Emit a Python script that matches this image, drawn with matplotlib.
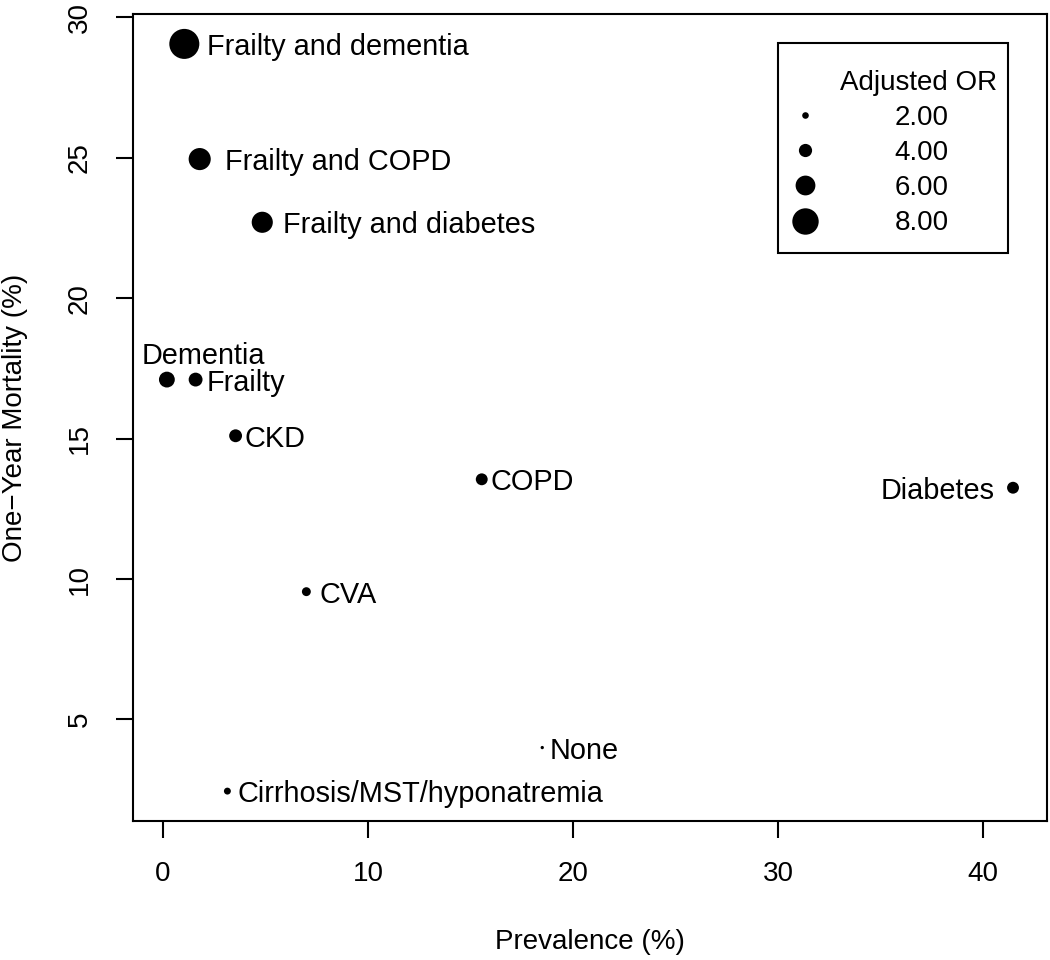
import matplotlib
matplotlib.use("Agg")
import matplotlib.pyplot as plt
from matplotlib.lines import Line2D
from matplotlib.patches import Rectangle

plt.rcParams["font.family"] = ["Liberation Sans", "DejaVu Sans"]

# condition groups with prevalence (%), one-year mortality (%) and adjusted OR
conditions = [
    "Frailty and dementia", "Frailty and COPD", "Frailty and diabetes",
    "Dementia", "Frailty", "CKD", "COPD", "Diabetes", "CVA",
    "None", "Cirrhosis/MST/hyponatremia",
]
prevalence = [1.05, 1.8, 4.85, 0.2, 1.6, 3.55, 15.55, 41.45, 7.0, 18.5, 3.15]
mortality = [29.05, 24.95, 22.7, 17.1, 17.1, 15.1, 13.55, 13.25, 9.55, 4.0, 2.45]
adjusted_or = [9.1, 6.7, 6.4, 4.8, 4.2, 3.9, 3.6, 3.6, 2.7, 1.0, 2.1]

legend_or = [2.0, 4.0, 6.0, 8.0]

# label placement (offset in points from the marker centre, alignment)
label_style = {
    "Frailty and dementia": (16, 0, "left", "center_baseline"),
    "Frailty and COPD": (18, 0, "left", "center_baseline"),
    "Frailty and diabetes": (15, 0, "left", "center_baseline"),
    "Dementia": (-18, 11, "left", "baseline"),
    "Frailty": (8, 0, "left", "center_baseline"),
    "CKD": (6.5, 0, "left", "center_baseline"),
    "COPD": (6.5, 0, "left", "center_baseline"),
    "Diabetes": (-13, 0, "right", "center_baseline"),
    "CVA": (9.5, 0, "left", "center_baseline"),
    "None": (5, 0, "left", "center_baseline"),
    "Cirrhosis/MST/hyponatremia": (7, 0, "left", "center_baseline"),
}


def marker_diam(o):
    # marker diameter in points, proportional to the odds ratio
    return 3.3 * o * 0.72


fig = plt.figure(figsize=(10.5, 9.6), dpi=100)
ax = fig.add_axes([0.1267, 0.1448, 0.8703, 0.8406])

ax.scatter(prevalence, mortality, s=[marker_diam(o) ** 2 for o in adjusted_or],
           color="black", linewidths=0, zorder=3)

for name, x, y in zip(conditions, prevalence, mortality):
    dx, dy, ha, va = label_style[name]
    ax.annotate(name, (x, y), xytext=(dx, dy), textcoords="offset points",
                ha=ha, va=va, fontsize=20.8)

# R-like axis extents (4% padding)
xr = max(prevalence) - min(prevalence)
yr = max(mortality) - min(mortality)
ax.set_xlim(min(prevalence) - 0.04 * xr, max(prevalence) + 0.04 * xr)
ax.set_ylim(min(mortality) - 0.04 * yr, max(mortality) + 0.04 * yr)

ax.set_xticks([0, 10, 20, 30, 40])
ax.set_yticks([5, 10, 15, 20, 25, 30])
ax.tick_params(axis="both", direction="out", length=12, width=1.5,
               labelsize=20, pad=17)
for lab in ax.get_yticklabels():
    lab.set_rotation(90)
    lab.set_va("center")

for sp in ax.spines.values():
    sp.set_linewidth(1.5)

ax.set_xlabel("Prevalence (%)", fontsize=20)
ax.set_ylabel("One\u2212Year Mortality (%)", fontsize=20)
ax.xaxis.set_label_coords(0.5, -0.1499)
ax.xaxis.label.set_va("center")
ax.yaxis.set_label_coords(-0.129, 0.5)
ax.yaxis.label.set_va("center")

# legend frame drawn as a box, contents placed inside it
ax.add_patch(Rectangle((0.7057, 0.7038), 0.2516, 0.2603, transform=ax.transAxes,
                       facecolor="white", edgecolor="black", linewidth=1.5,
                       zorder=4))
handles = [Line2D([], [], marker="o", linestyle="none", color="black",
                  markersize=marker_diam(o), markeredgewidth=0) for o in legend_or]
leg = ax.legend(handles, [f"{o:.2f}" for o in legend_or], title="Adjusted OR",
                loc="upper left", bbox_to_anchor=(0.7057, 0.7038, 0.2516, 0.2410),
                mode="expand", alignment="right",
                fontsize=20, title_fontsize=20, frameon=False,
                borderpad=0.4, handlelength=1.15, handletextpad=2.66,
                labelspacing=0.33, borderaxespad=0)
leg.set_zorder(5)

fig.savefig("out.png", dpi=100)
